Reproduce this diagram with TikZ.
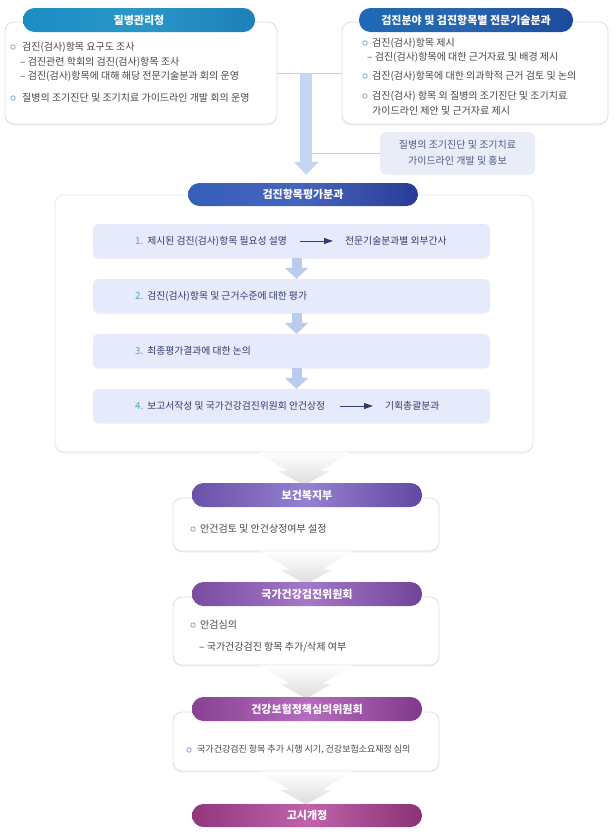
\documentclass[tikz,border=0pt]{standalone}
\usepackage{fontspec}
\setmainfont{Noto Sans CJK KR}
\usepackage{xcolor}
\definecolor{framegray}{RGB}{222,222,222}
\definecolor{linegray}{RGB}{205,205,205}
\definecolor{bodygray}{RGB}{70,70,70}
\definecolor{stepnavy}{RGB}{48,60,110}
\definecolor{stepteal}{RGB}{84,166,186}
\definecolor{stepfill}{RGB}{229,235,250}
\definecolor{stepblue}{RGB}{186,203,238}
\definecolor{arrowblue}{RGB}{198,213,241}
\definecolor{notefill}{RGB}{233,237,248}
\definecolor{bulletblue}{RGB}{135,172,212}
\definecolor{bulletpurple}{RGB}{168,150,206}
\definecolor{funnelgray}{RGB}{220,220,220}
\definecolor{kdcaL}{RGB}{28,140,196}
\definecolor{kdcaM}{RGB}{42,150,200}
\definecolor{kdcaR}{RGB}{30,128,185}
\definecolor{expertL}{RGB}{30,105,180}
\definecolor{expertM}{RGB}{40,100,175}
\definecolor{expertR}{RGB}{28,75,155}
\definecolor{evalL}{RGB}{55,95,185}
\definecolor{evalM}{RGB}{70,100,190}
\definecolor{evalR}{RGB}{40,60,150}
\definecolor{hwL}{RGB}{105,82,168}
\definecolor{hwM}{RGB}{150,128,208}
\definecolor{hwR}{RGB}{98,72,162}
\definecolor{natL}{RGB}{120,76,160}
\definecolor{natM}{RGB}{165,120,200}
\definecolor{natR}{RGB}{112,68,152}
\definecolor{insL}{RGB}{135,66,145}
\definecolor{insM}{RGB}{182,108,190}
\definecolor{insR}{RGB}{128,58,138}
\definecolor{ntcL}{RGB}{145,55,125}
\definecolor{ntcM}{RGB}{192,98,170}
\definecolor{ntcR}{RGB}{138,50,118}
\usepackage{tikz}
\usetikzlibrary{arrows.meta, positioning, calc, shadows}

\tikzset{
  infobox/.style={draw=framegray, fill=white, rounded corners=9pt, line width=0.8pt,
    drop shadow={opacity=0.10, shadow xshift=0pt, shadow yshift=-1.5pt}},
  pill/.style={rounded corners=11.5pt, minimum height=24pt, text=white, inner sep=0pt,
    font=\fontsize{11}{13}\selectfont\bfseries},
  bodytext/.style={anchor=west, inner sep=0pt, text=bodygray, font=\fontsize{10}{12}\selectfont},
  steptext/.style={anchor=west, inner sep=0pt, text=stepnavy, font=\fontsize{9.8}{12}\selectfont},
  stepbox/.style={fill=stepfill, rounded corners=5pt, minimum width=397pt, minimum height=34pt,
    drop shadow={opacity=0.08, shadow xshift=0pt, shadow yshift=-1pt}},
  bulletring/.style={draw=bulletblue, line width=0.9pt},
  bulletlilac/.style={draw=bulletpurple, line width=0.9pt},
  thinline/.style={draw=linegray, line width=0.8pt},
  bigarrow/.style={draw=arrowblue, line width=12pt, -{Triangle[width=24pt,length=13pt]}},
  steparrow/.style={draw=stepblue, line width=10pt, -{Triangle[width=23pt,length=11pt]}},
  pointer/.style={draw=stepnavy, line width=0.9pt, -{Triangle[width=6pt,length=9pt]}},
  funnel/.pic={
    \shade[top color=white, bottom color=funnelgray]
      (-46,0) -- (46,0) -- (17,18) -- (25,19) -- (0,33) -- (-25,19) -- (-17,18) -- cycle;
  }
}

\begin{document}
\begin{tikzpicture}[x=1pt, y=-1pt]
  \fill[white] (0,0) rectangle (614,839);
  \useasboundingbox (0,0) rectangle (614,839);

  % top row
  \node[infobox, minimum width=272pt, minimum height=102pt] (kdca) at (141,73) {};
  \node[infobox, minimum width=266pt, minimum height=102pt] (expert) at (475,73) {};
  \node[pill, minimum width=232pt, left color=kdcaL, right color=kdcaR, middle color=kdcaM] (kdcapill) at (139,20) {질병관리청};
  \node[pill, minimum width=214pt, left color=expertL, right color=expertR, middle color=expertM] (expertpill) at (466,20) {검진분야 및 검진항목별 전문기술분과};

  \draw[bulletring] (13,47) circle (2.2pt);
  \node[bodytext] (k1) at (22,47) {검진(검사)항목 요구도 조사};
  \node[bodytext] (k2) at (20,62) {– 검진관련 학회의 검진(검사)항목 조사};
  \node[bodytext] (k3) at (20,76) {– 검진(검사)항목에 대해 해당 전문기술분과 회의 운영};
  \draw[bulletring] (13,98) circle (2.2pt);
  \node[bodytext] (k4) at (22,98) {질병의 조기진단 및 조기치료 가이드라인 개발 회의 운영};

  \draw[bulletring] (365,43) circle (2.2pt);
  \node[bodytext] (e1) at (372,43) {검진(검사)항목 제시};
  \node[bodytext] (e2) at (367,57) {– 검진(검사)항목에 대한 근거자료 및 배경 제시};
  \draw[bulletring] (365,76) circle (2.2pt);
  \node[bodytext] (e3) at (372,76) {검진(검사)항목에 대한 의과학적 근거 검토 및 논의};
  \draw[bulletring] (365,96) circle (2.2pt);
  \node[bodytext] (e4) at (372,96) {검진(검사) 항목 외 질병의 조기진단 및 조기치료};
  \node[bodytext] (e5) at (372,111) {가이드라인 제안 및 근거자료 제시};

  % guideline note
  \node[fill=notefill, rounded corners=6pt, minimum width=155pt, minimum height=42pt, align=center,
    text=stepnavy!85, font=\fontsize{10}{16}\selectfont,
    drop shadow={opacity=0.10, shadow xshift=0pt, shadow yshift=-1pt}] (note) at (457.5,153)
    {질병의 조기진단 및 조기치료\\가이드라인 개발 및 홍보};

  % evaluation committee
  \node[infobox, draw=framegray!70, minimum width=478pt, minimum height=257pt] (evalbox) at (294,323.5) {};

  \coordinate (split) at ($(kdca.east)!0.45!(expert.west)$);
  \draw[thinline] (kdca.east) -- (expert.west);
  \draw[thinline] (split |- note.west) -- (note.west);

  \node[pill, minimum width=230pt, minimum height=23pt, left color=evalL, right color=evalR, middle color=evalM] (evalpill) at (303,194.5) {검진항목평가분과};
  \draw[bigarrow, shorten >=8pt] (split) -- (split |- evalpill.north);

  \node[stepbox] (step1) at (291.5,241) {};
  \node[stepbox] (step2) at (291.5,296) {};
  \node[stepbox] (step3) at (291.5,351) {};
  \node[stepbox] (step4) at (291.5,406) {};
  \draw[steparrow] ([xshift=5pt]step1.south) -- ([xshift=5pt]step2.north);
  \draw[steparrow] ([xshift=5pt]step2.south) -- ([xshift=5pt]step3.north);
  \draw[steparrow] ([xshift=5pt]step3.south) -- ([xshift=5pt]step4.north);

  \node[steptext] (s1) at (135,241) {{\color{stepteal}1.}\hspace{4pt}제시된 검진(검사)항목 필요성 설명};
  \node[steptext] (s1dst) at (345,241) {전문기술분과별 외부간사};
  \draw[pointer] ([xshift=-45pt]s1dst.west) -- ([xshift=-12pt]s1dst.west);
  \node[steptext] (s2) at (135,296) {{\color{stepteal}2.}\hspace{4pt}검진(검사)항목 및 근거수준에 대한 평가};
  \node[steptext] (s3) at (135,351) {{\color{stepteal}3.}\hspace{4pt}최종평가결과에 대한 논의};
  \node[steptext] (s4) at (135,406) {{\color{stepteal}4.}\hspace{4pt}보고서작성 및 국가건강검진위원회 안건상정};
  \node[steptext] (s4dst) at (385,406) {기획총괄분과};
  \draw[pointer] ([xshift=-45pt]s4dst.west) -- ([xshift=-12pt]s4dst.west);

  % ministry and committees
  \node[infobox, minimum width=266pt, minimum height=53pt] (hwbox) at (306,524.5) {};
  \node[infobox, minimum width=266pt, minimum height=68pt] (natbox) at (306,631) {};
  \node[infobox, minimum width=266pt, minimum height=59pt] (insbox) at (306,741.5) {};

  \pic at ([xshift=10pt]evalbox.south) {funnel};
  \pic at (hwbox.south) {funnel};
  \pic at (natbox.south) {funnel};
  \pic at (insbox.south) {funnel};

  \node[pill, minimum width=230pt, left color=hwL, right color=hwR, middle color=hwM] (hwpill) at (307,495) {보건복지부};
  \node[pill, minimum width=230pt, left color=natL, right color=natR, middle color=natM] (natpill) at (307,594) {국가건강검진위원회};
  \node[pill, minimum width=230pt, left color=insL, right color=insR, middle color=insM] (inspill) at (307,709) {건강보험정책심의위원회};
  \node[pill, minimum width=230pt, minimum height=23pt, left color=ntcL, right color=ntcR, middle color=ntcM] (ntcpill) at (307,815.5) {고시개정};

  \draw[bulletlilac] (193,529) circle (2.2pt);
  \node[bodytext] (h1) at (200,529) {안건검토 및 안건상정여부 설정};
  \draw[bulletlilac] (193,625) circle (2.2pt);
  \node[bodytext] (n1) at (200,625) {안검심의};
  \node[bodytext] (n2) at (199,647) {– 국가건강검진 항목 추가/삭제 여부};
  \draw[bulletlilac] (189,750) circle (2.2pt);
  \node[bodytext, font=\fontsize{9}{11}\selectfont] (i1) at (197,750) {국가건강검진 항목 추가 시행 시기, 건강보험소요재정 심의};
\end{tikzpicture}
\end{document}
